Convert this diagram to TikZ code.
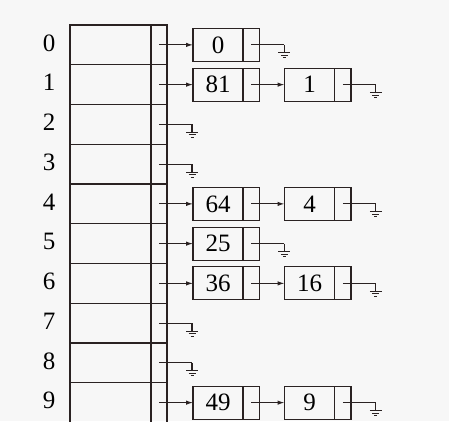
\documentclass[tikz,border=0pt]{standalone}
\usepackage{fontspec}
\setmainfont{Liberation Serif}
\usepackage{tikz}
\usetikzlibrary{calc, positioning, arrows.meta}
\usepackage{xcolor}
\definecolor{ink}{HTML}{2A2222}

\begin{document}
\begin{tikzpicture}[
  x=1pt, y=-1pt,
  slot/.style={draw=ink, line width=1.2pt, minimum width=81pt, minimum height=39.75pt, inner sep=0pt, outer sep=0pt},
  slotptr/.style={slot, minimum width=16pt},
  cell/.style={draw=ink, line width=1.2pt, minimum width=50pt, minimum height=33pt, inner sep=0pt, outer sep=0pt, font=\fontsize{25}{25}\selectfont},
  cellptr/.style={cell, minimum width=16.5pt},
  idx/.style={font=\fontsize{25}{25}\selectfont, inner sep=0pt},
  edge/.style={draw=ink, line width=1.1pt},
  link/.style={edge, -{Latex[length=7pt, width=4.5pt]}}
]

\def\rh{39.75}
\def\gl{33}
\def\gnd#1{%
  \draw[edge] (#1) -- ++(0,8);
  \draw[edge] ($(#1)+(-6,8)$) -- ++(12,0);
  \draw[edge] ($(#1)+(-3.5,10.5)$) -- ++(7,0);
  \draw[edge] ($(#1)+(-1.5,13)$) -- ++(3,0);
}

\useasboundingbox (0,0) rectangle (449,421);
\fill[black!3] (0,0) rectangle (449,421);
\clip (0,0) rectangle (449,421);

% hash table
\foreach \i in {0,...,9} {
  \node[slot] (s\i) at (110.5, {25+\rh*(\i+0.5)}) {};
  \node[slotptr, right=0pt of s\i] (q\i) {};
  \node[idx, yshift=2pt] (i\i) at (49, {25+\rh*(\i+0.5)}) {\i};
}

% first cells
\node[cell, right=26pt of q0] (k0) {0};
\node[cell, right=26pt of q1] (k1) {81};
\node[cell, right=26pt of q4] (k4) {64};
\node[cell, right=26pt of q5] (k5) {25};
\node[cell, right=26pt of q6] (k6) {36};
\node[cell, right=26pt of q9] (k9) {49};
\foreach \i in {0,1,4,5,6,9} {
  \node[cellptr, right=0pt of k\i] (n\i) {};
}

% second cells
\node[cell, right=25pt of n1] (kk1) {1};
\node[cell, right=25pt of n4] (kk4) {4};
\node[cell, right=25pt of n6] (kk6) {16};
\node[cell, right=25pt of n9] (kk9) {9};
\foreach \i in {1,4,6,9} {
  \node[cellptr, right=0pt of kk\i] (nn\i) {};
}

% links
\foreach \i in {0,1,4,5,6,9} {
  \draw[link] (q\i.center) -- (k\i.west);
}
\foreach \i in {1,4,6,9} {
  \draw[link] (n\i.center) -- (kk\i.west);
}

% null pointers
\foreach \i in {2,3,7,8} {
  \coordinate (g\i) at ($(q\i.center)+(\gl,0)$);
  \draw[edge] (q\i.center) -- (g\i);
  \gnd{g\i}
}
\foreach \i in {0,5} {
  \coordinate (h\i) at ($(n\i.center)+(\gl,0)$);
  \draw[edge] (n\i.center) -- (h\i);
  \gnd{h\i}
}
\foreach \i in {1,4,6,9} {
  \coordinate (hh\i) at ($(nn\i.center)+(\gl,0)$);
  \draw[edge] (nn\i.center) -- (hh\i);
  \gnd{hh\i}
}

\end{tikzpicture}
\end{document}
